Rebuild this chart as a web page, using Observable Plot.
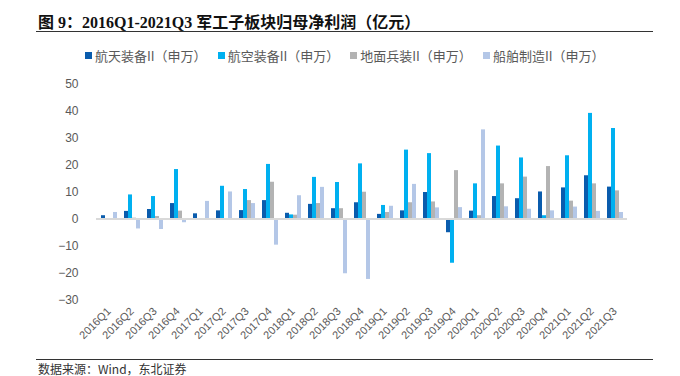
<!DOCTYPE html>
<html>
<head>
<meta charset="utf-8">
<script src="https://cdn.jsdelivr.net/npm/d3@7"></script>
<script src="https://cdn.jsdelivr.net/npm/@observablehq/plot@0.6"></script>
<style>
  html, body { margin: 0; padding: 0; background: #fff; }
  body { width: 680px; height: 376px; position: relative; overflow: hidden;
         font-family: "Liberation Sans", Arial, "Noto Sans CJK SC", sans-serif; }
  #title { position: absolute; left: 38px; top: 9px; font-size: 16px; font-weight: bold;
           font-family: "Liberation Serif", "Times New Roman", "Noto Sans CJK SC", serif; color: #111; white-space: nowrap; }
  .rule { position: absolute; left: 36px; width: 617px; height: 0; border-top: 1.5px solid #333; }
  #legend { position: absolute; left: 85px; top: 46px; display: flex; font-size: 13px; color: #595959;
            font-family: "Noto Sans CJK SC", sans-serif; white-space: nowrap; }
  #legend .item { display: flex; align-items: center; margin-right: 11px; }
  #legend .sw { width: 7px; height: 7px; margin-right: 3px; }
  #chart { position: absolute; left: 0; top: 66px; }
  #source { position: absolute; left: 38px; top: 362px; font-size: 12px; line-height: 13px; color: #333;
            font-family: "Noto Sans CJK SC", sans-serif; white-space: nowrap; }
</style>
</head>
<body>
<div id="title">图 9：2016Q1-2021Q3 军工子板块归母净利润（亿元）</div>
<div class="rule" style="top:31px"></div>
<div id="legend"></div>
<div id="chart"></div>
<div class="rule" style="top:359px"></div>
<div id="source">数据来源：Wind，东北证券</div>
<script>
const periods = ["2016Q1","2016Q2","2016Q3","2016Q4","2017Q1","2017Q2","2017Q3","2017Q4",
  "2018Q1","2018Q2","2018Q3","2018Q4","2019Q1","2019Q2","2019Q3","2019Q4",
  "2020Q1","2020Q2","2020Q3","2020Q4","2021Q1","2021Q2","2021Q3"];
const seriesNames = ["航天装备II（申万）", "航空装备II（申万）", "地面兵装II（申万）", "船舶制造II（申万）"];
const seriesColors = ["#0a5cad", "#00b0f0", "#b3b3b3", "#b4c7e7"];
const aerospace = [1.4, 3.0, 3.7, 5.9, 2.1, 3.2, 3.3, 7.0, 2.3, 5.6, 4.0, 6.2, 1.9, 3.2, 10.0, -4.9, 3.1, 8.5, 7.7, 10.2, 11.7, 16.2, 12.0];
const aviation = [-0.3, 9.1, 8.5, 18.5, -0.3, 12.3, 11.1, 20.4, 1.7, 15.6, 13.7, 20.6, 5.2, 25.7, 24.4, -16.2, 13.2, 27.2, 22.8, 1.4, 23.6, 39.3, 33.7];
const ground = [0.0, 0.5, 1.1, 3.1, 0.1, 0.2, 7.0, 13.8, 1.6, 5.9, 4.0, 10.1, 2.6, 6.2, 6.5, 18.1, 1.4, 13.2, 15.7, 19.6, 6.8, 13.2, 10.6];
const shipbuilding = [2.6, -3.5, -3.7, -1.2, 6.7, 10.2, 5.9, -9.5, 8.8, 11.9, -20.1, -22.2, 4.9, 13.0, 4.3, 4.4, 33.2, 4.7, 3.8, 3.2, 4.6, 3.0, 2.6];
const yTicks = [-30, -20, -10, 0, 10, 20, 30, 40, 50];

const valueArrays = [aerospace, aviation, ground, shipbuilding];
const data = periods.flatMap((p, i) => seriesNames.map((s, j) => ({period: p, series: s, value: valueArrays[j][i]})));

// legend
const legend = document.getElementById("legend");
seriesNames.forEach((s, j) => {
  const it = document.createElement("div"); it.className = "item";
  const sw = document.createElement("div"); sw.className = "sw"; sw.style.background = seriesColors[j];
  const tx = document.createElement("span"); tx.textContent = s;
  it.appendChild(sw); it.appendChild(tx); legend.appendChild(it);
});

const W = 680, H = 286, ML = 96, MR = 53, MT = 18, MB = 52;
const plot = Plot.plot({
  width: W, height: H,
  marginLeft: ML, marginRight: MR, marginTop: MT, marginBottom: MB,
  style: {fontSize: "11px", fontFamily: "'Liberation Sans', Arial, sans-serif", color: "#595959", background: "transparent"},
  fx: {domain: periods, paddingInner: 0.26, paddingOuter: 0.13, axis: "bottom", tickRotate: -45, tickSize: 0, tickPadding: 9, label: null},
  x: {domain: seriesNames, padding: 0, axis: null},
  y: {domain: [-30, 50], ticks: yTicks, tickSize: 0, tickPadding: 22, label: null,
      tickFormat: d => d < 0 ? "\u2212" + Math.abs(d) : String(d)},
  color: {domain: seriesNames, range: seriesColors},
  marks: [
    Plot.barY(data, {fx: "period", x: "series", y1: 0, y2: "value", fill: "series"})
  ]
});

// continuous zero line across facets, positioned with the plot's own y scale
const sy = plot.scale("y");
const yf = sy.apply ? (v => sy.apply(v)) : d3.scaleLinear(sy.domain, sy.range);
const y0 = yf(0);
const svg = d3.select(plot);
const firstFacet = plot.querySelector('g[aria-label="facet"]');
const line = document.createElementNS("http://www.w3.org/2000/svg", "line");
d3.select(line).attr("x1", ML).attr("x2", W - MR).attr("y1", y0).attr("y2", y0)
  .attr("stroke", "#d9d9d9").attr("stroke-width", 2);
if (firstFacet) plot.insertBefore(line, firstFacet); else plot.appendChild(line);
svg.selectAll('g[aria-label^="y-axis"]').style("font-size", "12px");

document.getElementById("chart").appendChild(plot);
</script>
</body>
</html>
